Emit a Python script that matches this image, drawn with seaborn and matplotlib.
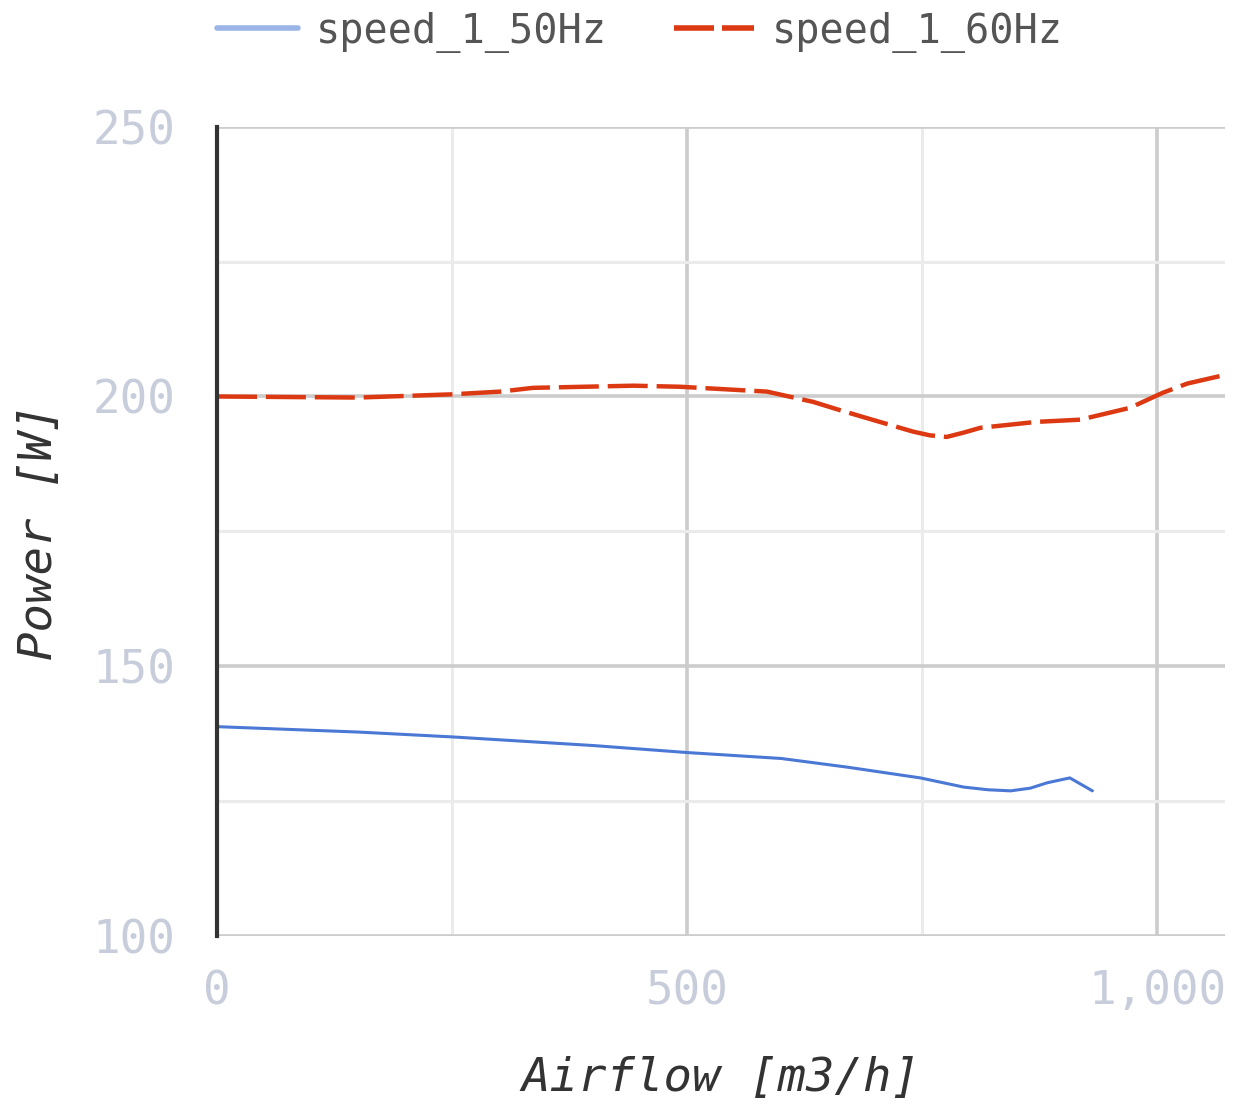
import pandas as pd
import matplotlib
matplotlib.use('Agg')
import matplotlib.pyplot as plt
import matplotlib.ticker as mticker
import seaborn as sns

# Data
x_50hz = [0, 150, 250, 400, 500, 600, 670, 748, 794, 820, 844, 865, 883, 907, 931]
p_50hz = [138.8, 137.8, 136.9, 135.3, 134.0, 132.9, 131.3, 129.3, 127.6, 127.1, 126.9, 127.4,
          128.4, 129.3, 126.9]

x_60hz = [0, 150, 250, 301, 336, 443, 493, 585, 634, 660, 687, 740, 758, 776, 794, 812, 872,
          918, 971, 1006, 1032, 1072]
p_60hz = [200.0, 199.8, 200.4, 200.9, 201.6, 202.0, 201.8, 200.9, 199.0, 197.6, 196.2, 193.5,
          192.8, 192.5, 193.3, 194.2, 195.3, 195.7, 197.9, 200.7, 202.4, 204.0]

labels = ['speed_1_50Hz', 'speed_1_60Hz']

df = pd.concat([
    pd.DataFrame({'Airflow': x_50hz, 'Power': p_50hz, 'series': labels[0]}),
    pd.DataFrame({'Airflow': x_60hz, 'Power': p_60hz, 'series': labels[1]}),
])

sns.set_style('white')
plt.rcParams['font.family'] = ['DejaVu Sans Mono', 'DejaVu Sans']

fig = plt.figure(figsize=(12.35, 11.04), dpi=100)
ax = fig.add_axes([0.1757, 0.1522, 0.8162, 0.733])

ax = sns.lineplot(data=df, x='Airflow', y='Power', hue='series', style='series',
                  palette={labels[0]: '#4a78d4', labels[1]: '#dc3912'},
                  dashes={labels[0]: '', labels[1]: (9, 2)},
                  sort=False, ax=ax, legend=True)
lines = ax.get_lines()
lines[0].set_linewidth(2.2)
lines[1].set_linewidth(3.2)

ax.set_xlim(0, 1072)
ax.set_ylim(100, 250)
ax.xaxis.set_major_locator(mticker.MultipleLocator(500))
ax.xaxis.set_minor_locator(mticker.MultipleLocator(250))
ax.yaxis.set_major_locator(mticker.MultipleLocator(50))
ax.yaxis.set_minor_locator(mticker.MultipleLocator(25))
ax.xaxis.set_major_formatter(mticker.FuncFormatter(lambda v, p: f'{v:,.0f}'))

ax.grid(which='major', color='#cccccc', linewidth=2.6)
ax.grid(which='minor', color='#ebebeb', linewidth=2.2)
ax.set_axisbelow(True)
for s in ['top', 'right', 'bottom']:
    ax.spines[s].set_visible(False)
ax.spines['left'].set_color('#333333')
ax.spines['left'].set_linewidth(3)
ax.spines['left'].set_zorder(5)

ax.tick_params(which='both', length=0)
ax.tick_params(axis='y', pad=30, labelsize=33, labelcolor='#c8cddc')
ax.tick_params(axis='x', pad=24, labelsize=33, labelcolor='#c8cddc')

ax.set_xlabel('Airflow [m3/h]', fontsize=34, style='italic', color='#333333', labelpad=30)
ax.set_ylabel('Power [W]', fontsize=34, style='italic', color='#333333', labelpad=22)

leg = ax.legend(loc='center left', bbox_to_anchor=(0.0, 1.117), ncol=2, frameon=False,
                fontsize=29, handlelength=2.0, handletextpad=0.45, columnspacing=1.66,
                borderaxespad=0, borderpad=0)
hl = leg.get_lines()
hl[0].set_color('#9bb5e6')
hl[0].set_linewidth(4)
hl[1].set_linewidth(4)
hl[1].set_dashes((7.2, 1.44))
for t in leg.get_texts():
    t.set_color('#555555')

fig.savefig('out.png', dpi=100)
